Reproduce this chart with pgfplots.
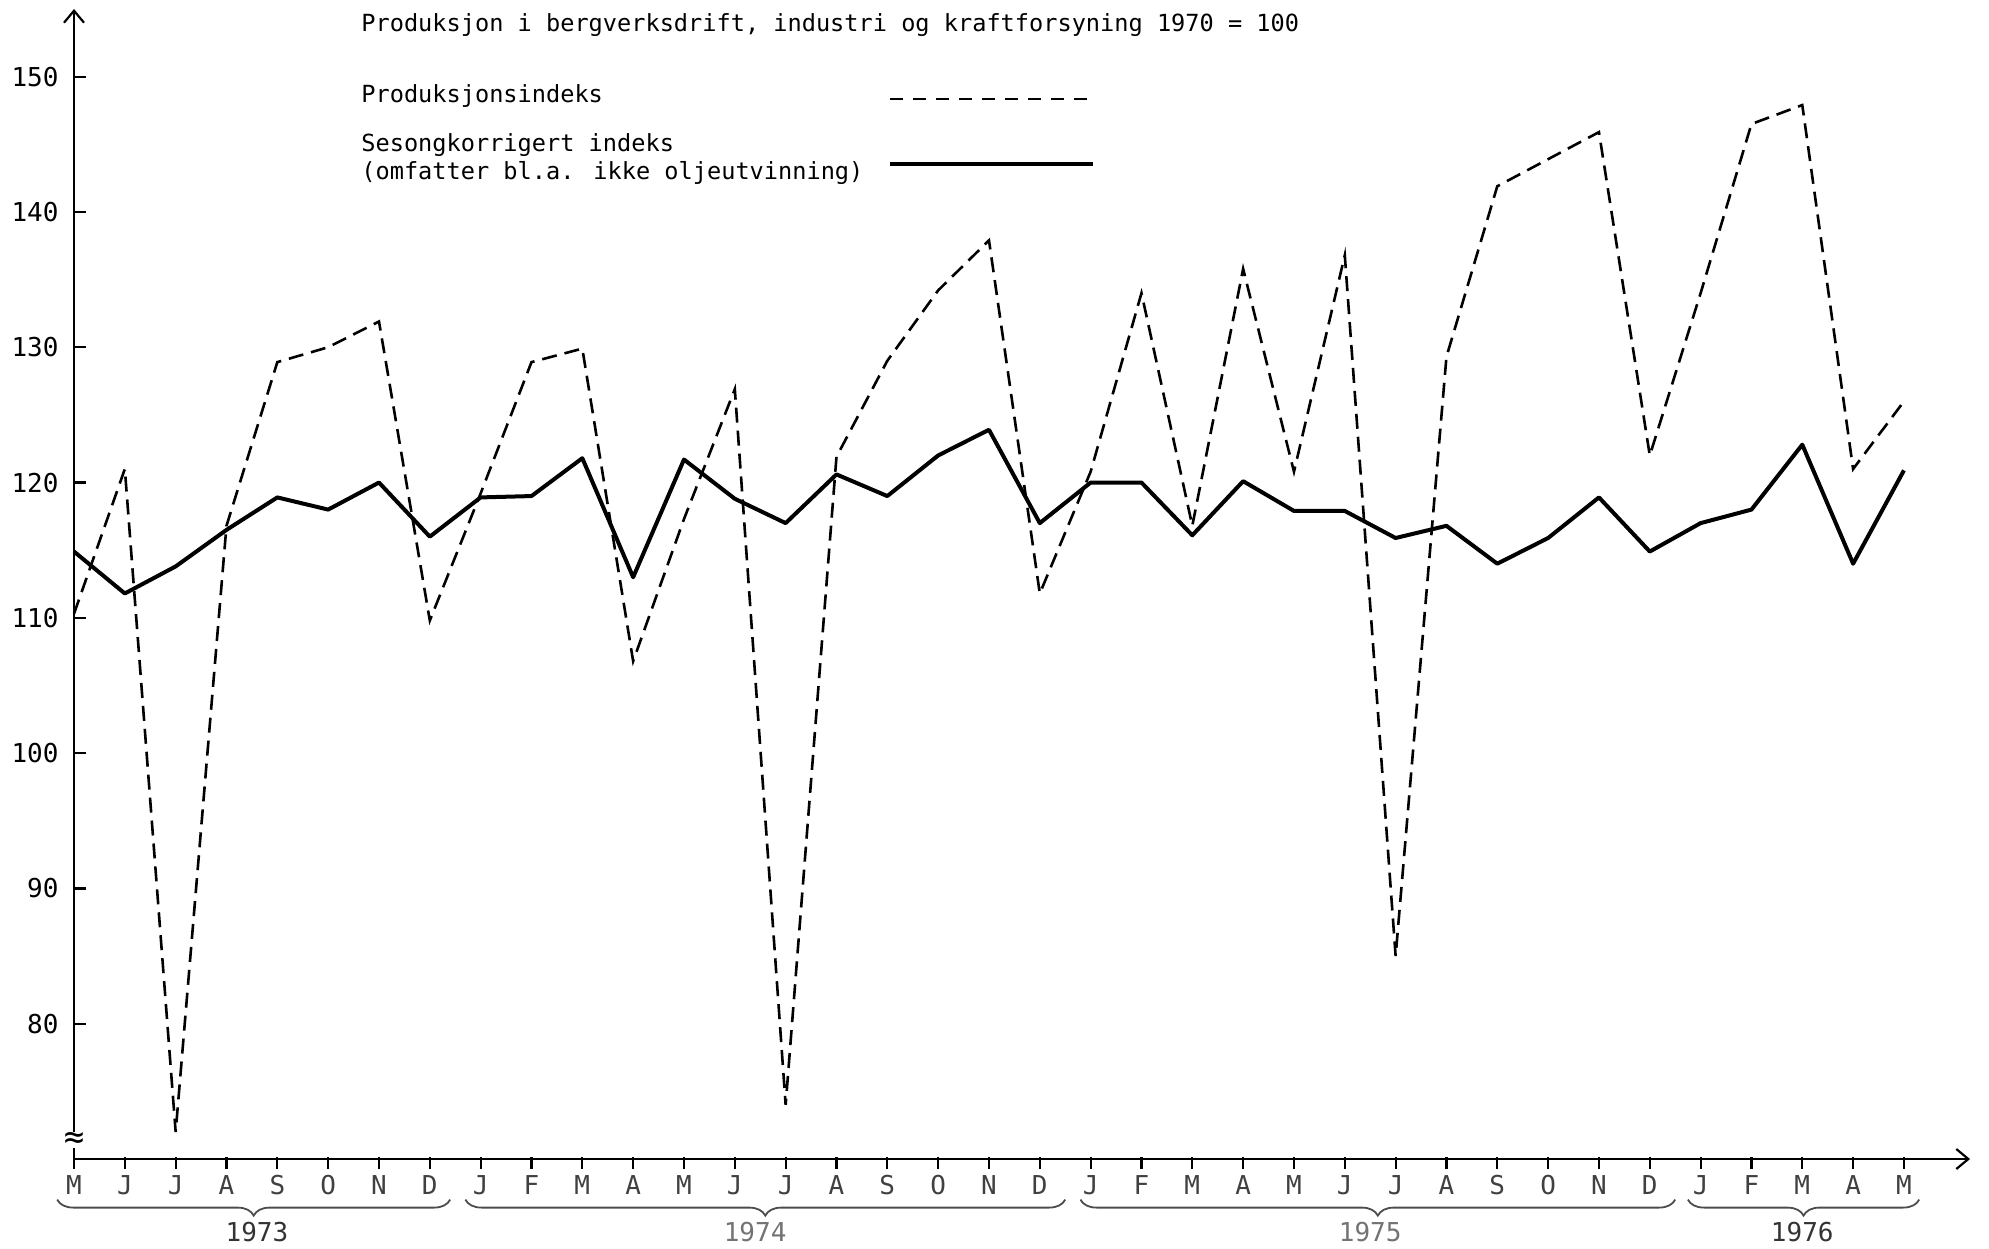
\documentclass[border=0pt]{standalone}
\usepackage{fontspec}
\setmainfont{DejaVu Sans Mono}
\setmonofont{DejaVu Sans Mono}
\usepackage{pgfplots}
\usepackage{pgfplotstable}
\pgfplotsset{compat=1.18}
\usetikzlibrary{arrows.meta,decorations.pathreplacing}

% month index (0 = mai 1973), produksjonsindeks, sesongkorrigert indeks
\pgfplotstableread{
idx prod ses
0  110.3 114.9
1  121.0 111.8
2  72.0  113.8
3  116.8 116.5
4  128.9 118.9
5  130.0 118.0
6  131.9 120.0
7  109.8 116.0
8  119.2 118.9
9  128.9 119.0
10 129.9 121.8
11 106.8 113.0
12 117.3 121.7
13 126.9 118.8
14 74.0  117.0
15 121.9 120.6
16 129.0 119.0
17 134.2 122.0
18 137.9 123.9
19 111.8 117.0
20 120.8 120.0
21 134.0 120.0
22 116.8 116.1
23 135.8 120.1
24 120.8 117.9
25 136.8 117.9
26 85.0  115.9
27 129.3 116.8
28 141.9 114.0
29 143.9 115.9
30 145.9 118.9
31 122.0 114.9
32 134.0 117.0
33 146.5 118.0
34 147.9 122.8
35 121.0 114.0
36 126.0 120.9
}\data

\begin{document}
\begin{tikzpicture}
\begin{axis}[
    scale only axis,
    width=948pt, height=575pt,
    xmin=0, xmax=37.3,
    ymin=70, ymax=155,
    axis lines=left,
    axis line style={line width=1.1pt, -{Straight Barb[length=6pt,width=10pt,line width=1.1pt]}},
    tick align=inside,
    major tick length=6pt,
    every tick/.style={black, line width=1.1pt},
    every x tick/.append style={yshift=-5pt},
    xtick={0,...,36},
    xticklabels={M,J,J,A,S,O,N,D,J,F,M,A,M,J,J,A,S,O,N,D,J,F,M,A,M,J,J,A,S,O,N,D,J,F,M,A,M},
    ytick={80,90,...,150},
    xticklabel style={font=\fontsize{13}{13}\selectfont, text=black!75, yshift=-4.8pt},
    yticklabel style={font=\fontsize{13}{13}\selectfont, xshift=-4.2pt},
    /pgf/number format/assume math mode=true,
    clip=false,
]
\addplot[black, line width=1.3pt, dash pattern=on 7.5pt off 4pt] table[x=idx, y=prod] {\data};
\addplot[black, line width=2pt, line join=round] table[x=idx, y=ses] {\data};

% axis break
\node[fill=white, inner sep=0pt, font=\fontsize{17}{17}\selectfont] at (axis cs:0,71.4) {≈};

% year braces
\begin{scope}[black!70, line width=0.9pt, decoration={brace, mirror, amplitude=8pt}]
\draw[decorate] (axis cs:-0.33,67.0) -- (axis cs:7.4,67.0);
\draw[decorate] (axis cs:7.7,67.0) -- (axis cs:19.5,67.0);
\draw[decorate] (axis cs:19.8,67.0) -- (axis cs:31.5,67.0);
\draw[decorate] (axis cs:31.75,67.0) -- (axis cs:36.3,67.0);
\end{scope}
\begin{scope}[font=\fontsize{13}{13}\selectfont]
\node[text=black!80] at (axis cs:3.6,64.6) {1973};
\node[text=black!55] at (axis cs:13.4,64.6) {1974};
\node[text=black!55] at (axis cs:25.5,64.6) {1975};
\node[text=black!80] at (axis cs:34.0,64.6) {1976};
\end{scope}
\end{axis}

% title and legend
\begin{scope}[font=\fontsize{11.8}{11.8}\selectfont]
\node[anchor=base west, inner sep=0pt] at (143.5pt,563.5pt) {Produksjon i bergverksdrift, industri og kraftforsyning 1970 = 100};
\node[anchor=base west, inner sep=0pt] at (143.5pt,528pt) {Produksjonsindeks};
\node[anchor=base west, inner sep=0pt] at (143.5pt,503.5pt) {Sesongkorrigert indeks};
\node[anchor=base west, inner sep=0pt] at (143.5pt,489.5pt) {(omfatter bl.a. ikke oljeutvinning)};
\end{scope}
\draw[line width=1pt, dash pattern=on 6.5pt off 5pt] (408pt,530pt) -- (509.5pt,530pt);
\draw[line width=2pt] (408pt,497.5pt) -- (509.5pt,497.5pt);

\path[use as bounding box] (-37pt,-43.5pt) rectangle (957.5pt,579.5pt);
\end{tikzpicture}
\end{document}
